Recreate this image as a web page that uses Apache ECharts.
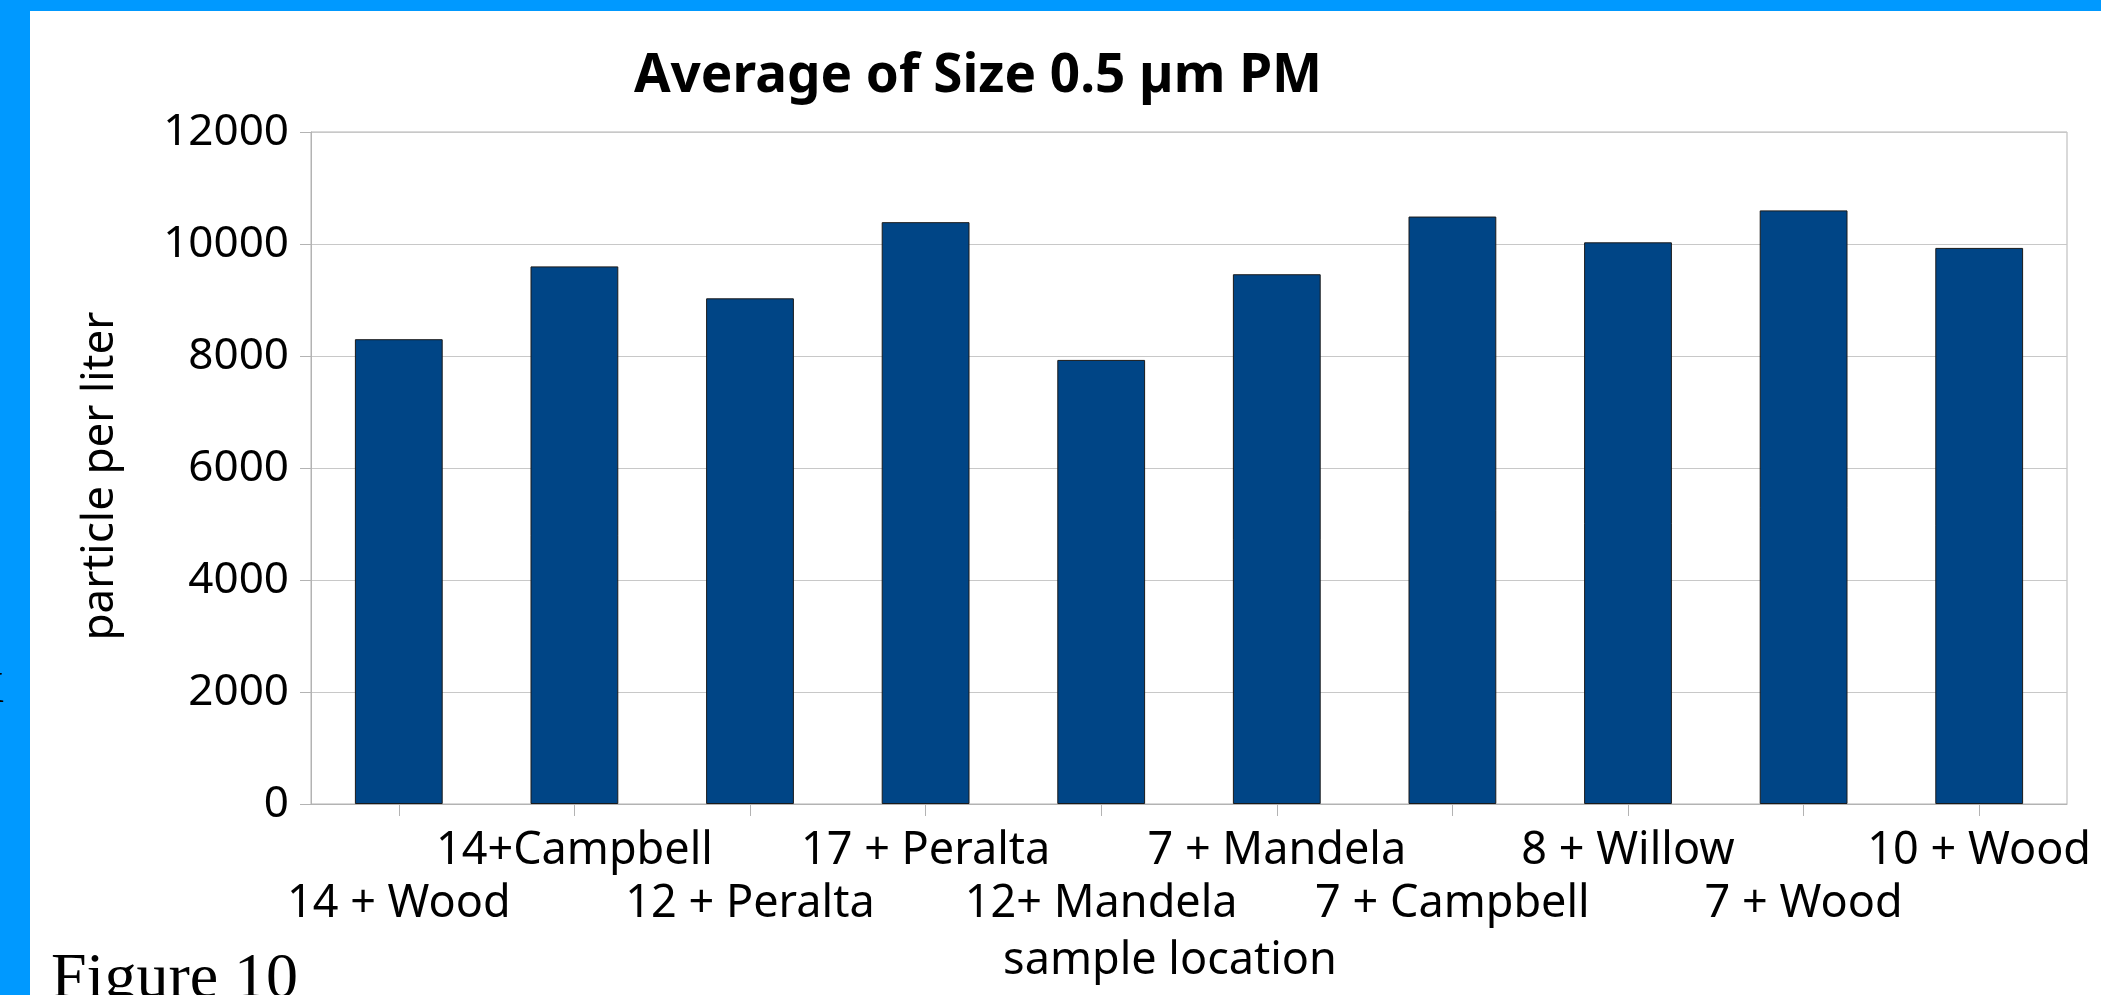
<!DOCTYPE html>
<html>
<head>
<meta charset="utf-8">
<script src="https://cdn.jsdelivr.net/npm/echarts@6/dist/echarts.min.js"></script>
<style>
  html, body { margin: 0; padding: 0; background: #ffffff; }
  #chart { width: 2101px; height: 995px; }
</style>
</head>
<body>
<div id="chart"></div>
<script>
const titleText = 'Average of Size 0.5 µm PM';
const categories = ['14 + Wood', '14+Campbell', '12 + Peralta', '17 + Peralta', '12+ Mandela',
                    '7 + Mandela', '7 + Campbell', '8 + Willow', '7 + Wood', '10 + Wood'];
const values = [8300, 9600, 9030, 10390, 7930, 9460, 10490, 10030, 10600, 9930];
const yTicks = [0, 2000, 4000, 6000, 8000, 10000, 12000];
const yAxisName = 'particle per liter';
const xAxisName = 'sample location';
const figureLabel = 'Figure 10';

const FONT = '"Noto Sans", "Open Sans", sans-serif';
const chart = echarts.init(document.getElementById('chart'), null, { renderer: 'canvas' });

chart.setOption({
  backgroundColor: '#ffffff',
  animation: false,
  title: {
    text: titleText,
    left: 973,
    top: 45,
    textAlign: 'center',
    textStyle: { fontFamily: FONT, fontWeight: 'bold', fontSize: 53, color: '#000000' }
  },
  grid: {
    left: 311, right: 34, top: 132, bottom: 191,
    show: true, borderColor: '#b3b3b3', borderWidth: 1,
    containLabel: false
  },
  xAxis: {
    type: 'category',
    data: categories,
    name: xAxisName,
    nameLocation: 'middle',
    nameGap: 135,
    nameTextStyle: { fontFamily: FONT, fontSize: 45, color: '#000000', padding: [0, 38, 0, 0] },
    axisLine: { show: true, lineStyle: { color: '#b3b3b3', width: 1 } },
    axisTick: { show: true, alignWithLabel: true, length: 12, lineStyle: { color: '#b3b3b3' } },
    axisLabel: {
      interval: 0,
      margin: 21,
      fontFamily: FONT,
      fontSize: 45,
      lineHeight: 53,
      color: '#000000',
      formatter: function (v, i) { return i % 2 === 0 ? '\n' + v : v; }
    },
    splitLine: { show: false }
  },
  yAxis: {
    type: 'value',
    min: yTicks[0],
    max: yTicks[yTicks.length - 1],
    interval: yTicks[1] - yTicks[0],
    name: yAxisName,
    nameLocation: 'middle',
    nameGap: 189,
    nameTextStyle: { fontFamily: FONT, fontSize: 44, color: '#000000', padding: [0, 16, 0, 0] },
    axisLine: { show: true, lineStyle: { color: '#b3b3b3', width: 1 } },
    axisTick: { show: true, length: 11, lineStyle: { color: '#b3b3b3' } },
    axisLabel: {
      margin: 22, fontFamily: FONT, fontSize: 44, color: '#000000',
      formatter: function (v) { return String(v); }
    },
    splitLine: { show: true, lineStyle: { color: '#c8c8c8', width: 1 } }
  },
  series: [{
    type: 'bar',
    data: values,
    barCategoryGap: '50%',
    itemStyle: { color: '#004586', borderColor: '#1a1a1a', borderWidth: 1 }
  }],
  graphic: [
    { type: 'rect', left: 0, top: 0, shape: { width: 30, height: 995 }, style: { fill: '#0099FF' }, z: 100 },
    { type: 'rect', left: 0, top: 0, shape: { width: 2101, height: 11 }, style: { fill: '#0099FF' }, z: 100 },
    { type: 'text', x: -28, y: 653, style: { text: 'x', font: '64px "Liberation Serif", serif', fill: '#000000' }, z: 101 },
    { type: 'text', x: 51, y: 948, style: { text: figureLabel, font: '64px "Liberation Serif", "Times New Roman", serif', fill: '#000000' }, z: 101 }
  ]
});
</script>
</body>
</html>
